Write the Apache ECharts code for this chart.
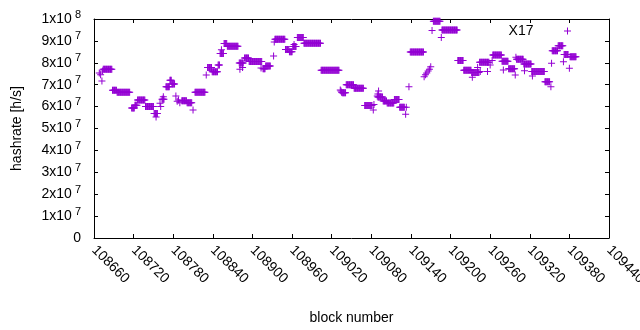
<!DOCTYPE html>
<html>
<head>
<meta charset="utf-8">
<script src="https://cdn.jsdelivr.net/npm/echarts@6/dist/echarts.min.js"></script>
<style>
  html, body { margin: 0; padding: 0; background: #fff; }
  #chart { width: 640px; height: 330px; }
</style>
</head>
<body>
<div id="chart"></div>
<script>
// constant-difficulty stretches: [first block, last block, hashrate]
const runs = [
  [108674, 108687, 77.0e6], [108688, 108694, 67.5e6], [108695, 108714, 66.6e6],
  [108717, 108721, 59.4e6], [108722, 108725, 60.6e6], [108726, 108737, 63.0e6],
  [108738, 108750, 60.1e6], [108751, 108756, 56.8e6], [108763, 108766, 63.3e6],
  [108769, 108774, 69.1e6], [108775, 108777, 72.0e6], [108778, 108782, 70.3e6],
  [108793, 108800, 62.7e6], [108801, 108808, 61.8e6], [108813, 108828, 66.6e6],
  [108832, 108838, 77.8e6], [108839, 108847, 75.9e6], [108848, 108850, 79.0e6],
  [108851, 108856, 84.3e6], [108857, 108861, 88.8e6], [108862, 108878, 87.6e6],
  [108880, 108886, 79.9e6], [108888, 108894, 82.2e6], [108895, 108914, 80.6e6],
  [108916, 108919, 77.3e6], [108920, 108927, 78.5e6], [108934, 108949, 90.8e6],
  [108950, 108955, 86.1e6], [108956, 108960, 85.1e6], [108961, 108966, 87.5e6],
  [108968, 108977, 91.6e6], [108978, 109003, 88.9e6], [109004, 109031, 76.6e6],
  [109036, 109041, 66.3e6], [109042, 109053, 70.0e6], [109054, 109068, 68.4e6],
  [109070, 109081, 60.5e6], [109090, 109097, 64.4e6], [109098, 109103, 62.6e6],
  [109104, 109114, 61.6e6], [109115, 109122, 63.2e6], [109123, 109130, 59.7e6],
  [109139, 109159, 84.9e6], [109174, 109184, 99.0e6], [109187, 109210, 95.0e6],
  [109211, 109219, 81.1e6], [109220, 109231, 76.6e6], [109232, 109243, 75.6e6],
  [109244, 109258, 80.2e6], [109264, 109277, 83.6e6], [109278, 109287, 80.7e6],
  [109288, 109297, 77.3e6], [109300, 109310, 81.6e6], [109311, 109322, 79.5e6],
  [109323, 109342, 76.0e6], [109343, 109350, 71.3e6], [109354, 109362, 85.5e6],
  [109363, 109370, 87.8e6], [109372, 109378, 83.8e6], [109381, 109390, 82.8e6]
];

// isolated blocks: [block, hashrate]
const singles = [
  [108668, 75.3e6], [108670, 74.5e6], [108672, 71.7e6], [108673, 76.3e6],
  [108754, 55.3e6], [108760, 61.5e6], [108761, 60.0e6], [108765, 64.5e6],
  [108784, 64.8e6], [108786, 62.5e6], [108788, 63.0e6], [108790, 61.8e6],
  [108810, 58.4e6], [108830, 74.4e6], [108853, 86.0e6], [108881, 77.0e6],
  [108885, 77.8e6], [108913, 77.6e6], [108932, 83.1e6], [108933, 89.5e6],
  [108963, 88.3e6], [109033, 67.6e6], [109034, 67.1e6], [109035, 66.6e6],
  [109083, 58.4e6], [109084, 61.0e6], [109089, 64.8e6], [109090, 65.8e6],
  [109091, 67.1e6], [109132, 56.5e6], [109133, 59.7e6], [109137, 69.1e6],
  [109160, 73.6e6], [109162, 74.5e6], [109164, 75.3e6], [109166, 76.2e6],
  [109168, 77.0e6], [109170, 78.2e6], [109172, 94.7e6], [109186, 91.6e6],
  [109233, 73.4e6], [109241, 77.8e6], [109245, 76.0e6], [109256, 76.0e6],
  [109260, 79.0e6], [109263, 81.0e6], [109280, 76.7e6], [109298, 74.4e6],
  [109299, 82.5e6], [109312, 76.4e6], [109324, 74.0e6], [109352, 69.1e6],
  [109353, 79.8e6], [109371, 80.5e6], [109380, 77.5e6]
];

// y tick labels: [mantissa text, exponent]
const yTickLabels = [
  ['0', ''], ['1x10', '7'], ['2x10', '7'], ['3x10', '7'], ['4x10', '7'], ['5x10', '7'],
  ['6x10', '7'], ['7x10', '7'], ['8x10', '7'], ['9x10', '7'], ['1x10', '8']
];

const seriesName = 'X17';
const color = '#9400d3';
const plus = 'path://M3,0H4V3H7V4H4V7H3V4H0V3H3Z';
const font = '"Liberation Sans", Arial, sans-serif';

const points = [];
runs.forEach(([a, b, v]) => {
  for (let n = a; n <= b; n++) points.push([n, v]);
});
singles.forEach(p => points.push(p));

const myChart = echarts.init(document.getElementById('chart'));

const lineStyle = { color: '#000', width: 1 };
const mirrorAxis = {
  type: 'value',
  axisLine: { show: true, onZero: false, lineStyle },
  axisTick: { show: true, inside: true, length: 4, lineStyle },
  axisLabel: { show: false },
  splitLine: { show: false }
};

myChart.setOption({
  animation: false,
  textStyle: { fontFamily: font },
  grid: { left: 94, right: 31, top: 19, bottom: 92, containLabel: false, outerBoundsMode: 'none' },
  legend: {
    data: [seriesName],
    right: 69,
    top: 24,
    padding: 0,
    align: 'right',
    itemWidth: 58,
    itemHeight: 7,
    symbolKeepAspect: true,
    textStyle: { fontSize: 14, color: '#000', fontFamily: font }
  },
  xAxis: [
    {
      type: 'value',
      min: 108660,
      max: 109440,
      interval: 60,
      name: 'block number',
      nameLocation: 'middle',
      nameGap: 73,
      nameTextStyle: { fontSize: 14, color: '#000' },
      axisLine: { show: true, onZero: false, lineStyle },
      axisTick: { show: true, inside: true, length: 4, lineStyle },
      axisLabel: {
        rotate: -45,
        margin: 10,
        fontSize: 14,
        color: '#000',
        showMaxLabel: true,
        hideOverlap: false,
        formatter: v => String(v)
      },
      splitLine: { show: false }
    },
    Object.assign({}, mirrorAxis, { position: 'top', min: 108660, max: 109440, interval: 60 })
  ],
  yAxis: [
    {
      type: 'value',
      min: 0,
      max: 1e8,
      interval: 1e7,
      name: 'hashrate [h/s]',
      nameLocation: 'middle',
      nameGap: 70,
      nameRotate: 90,
      nameTextStyle: { fontSize: 14, color: '#000' },
      axisLine: { show: true, onZero: false, lineStyle },
      axisTick: { show: true, inside: true, length: 4, lineStyle },
      axisLabel: {
        margin: 13,
        color: '#000',
        formatter: v => {
          const t = yTickLabels[Math.round(v / 1e7)];
          return t[1] ? `{b|${t[0]}}{s|${t[1]}}` : `{b|${t[0]}}`;
        },
        rich: {
          b: { fontSize: 14, color: '#000', fontFamily: font },
          s: { fontSize: 11, color: '#000', fontFamily: font, padding: [0, 0, 9, 3] }
        }
      },
      splitLine: { show: false }
    },
    Object.assign({}, mirrorAxis, { position: 'right', min: 0, max: 1e8, interval: 1e7 })
  ],
  series: [
    {
      name: seriesName,
      type: 'scatter',
      data: points,
      symbol: plus,
      symbolSize: 7,
      itemStyle: { color: color, opacity: 1 },
      emphasis: { disabled: true }
    }
  ]
});
</script>
</body>
</html>
